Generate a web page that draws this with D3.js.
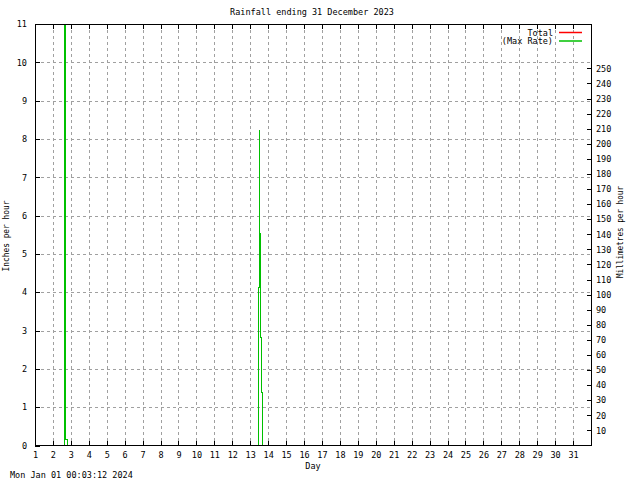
<!DOCTYPE html>
<html><head><meta charset="utf-8">
<script src="https://cdn.jsdelivr.net/npm/d3@7"></script>
<style>
html,body{margin:0;padding:0;background:#fff;}
text{font-family:"DejaVu Sans Mono",monospace;font-size:8.5px;fill:#000;}
</style></head>
<body>
<script>
// ---- data ----
const dayTicks = d3.range(1, 32);            // 1..31
const inchTicks = d3.range(0, 12);           // 0..11 inches per hour
const mmTicks = d3.range(10, 260, 10);       // 10..250 mm per hour
const rateDays   = [1, 2.617, 2.689, 2.773, 13.43, 13.486, 13.49, 13.542, 13.598, 13.67, 32];
const rateValues = [0, 20,    0.16,  0,     4.14,  8.26,   5.54,  2.83,   1.40,   0,     0];
const totalDays = [];
const totalValues = [];
const titleText = "Rainfall ending 31 December 2023";
const stampText = "Mon Jan 01 00:03:12 2024";

(function () {
const W = 640, H = 480;
const L = 35, R = 591, T = 24, B = 445.5;

const svg = d3.select("body").append("svg").attr("width", W).attr("height", H);
const x = d3.scaleLinear().domain([1, 32]).range([L, R]);
const y = d3.scaleLinear().domain([0, 11]).range([B, T]);
const y2 = d3.scaleLinear().domain([0, 11 * 25.4]).range([B, T]);

// grid
const grid = svg.append("g").attr("stroke", "#a0a0a0").attr("stroke-dasharray", "3,3")
  .attr("stroke-width", 1).attr("shape-rendering", "crispEdges");
grid.selectAll("line.v").data(dayTicks.filter(d => d > 1)).enter().append("line")
  .attr("x1", d => Math.round(x(d)) + 0.5).attr("x2", d => Math.round(x(d)) + 0.5)
  .attr("y1", T).attr("y2", B);
grid.selectAll("line.h").data(inchTicks.filter(d => d > 0 && d < 11)).enter().append("line")
  .attr("y1", d => Math.round(y(d)) + 0.5).attr("y2", d => Math.round(y(d)) + 0.5)
  .attr("x1", L).attr("x2", R);

// data
svg.append("clipPath").attr("id", "clip").append("rect")
  .attr("x", L).attr("y", T).attr("width", R - L).attr("height", B - T);
const line = d3.line().x(d => Math.round(x(d[0])) + 0.5).y(d => Math.round(y(d[1])) + 0.5).curve(d3.curveStepAfter);
svg.append("path").datum(rateDays.map((d, i) => [d, rateValues[i]]))
  .attr("clip-path", "url(#clip)")
  .attr("fill", "none").attr("stroke", "#00c000").attr("stroke-width", 1)
  .attr("shape-rendering", "crispEdges")
  .attr("d", line);
if (totalDays.length) {
  svg.append("path").datum(totalDays.map((d, i) => [d, totalValues[i]]))
    .attr("clip-path", "url(#clip)").attr("fill", "none").attr("stroke", "#ff0000").attr("d", line);
}

// axes
const ax = svg.append("g").attr("shape-rendering", "crispEdges");
const gBottom = ax.append("g").attr("transform", `translate(0,${B})`)
  .call(d3.axisBottom(x).tickValues(dayTicks).tickFormat(d3.format("d")).tickSizeInner(-5).tickSizeOuter(0).tickPadding(5));
ax.append("g").attr("transform", `translate(0,${T})`)
  .call(d3.axisTop(x).tickValues(dayTicks).tickFormat("").tickSizeInner(-5).tickSizeOuter(0));
ax.append("g").attr("transform", `translate(${L},0)`)
  .call(d3.axisLeft(y).tickValues(inchTicks).tickFormat(d3.format("d")).tickSizeInner(-5).tickSizeOuter(0).tickPadding(8));
ax.append("g").attr("transform", `translate(${R},0)`)
  .call(d3.axisRight(y2).tickValues(mmTicks).tickFormat(d3.format("d")).tickSizeInner(-4).tickSizeOuter(0).tickPadding(5));
ax.selectAll(".domain").remove();
ax.selectAll("line").attr("stroke", "#000");
ax.selectAll("text").attr("font-family", null).attr("font-size", null).style("font-family", "'DejaVu Sans Mono',monospace").style("font-size", "8.5px");
gBottom.selectAll("text").attr("dy", "0.9em");
// border
svg.append("rect").attr("x", L + 0.5).attr("y", T + 0.5).attr("width", R - L).attr("height", B - T - 0.5)
  .attr("fill", "none").attr("stroke", "#000").attr("stroke-width", 1).attr("shape-rendering", "crispEdges");

// texts
svg.append("text").attr("x", 312).attr("y", 15).attr("text-anchor", "middle").text(titleText);
svg.append("text").attr("x", 313).attr("y", 469).attr("text-anchor", "middle").text("Day");
svg.append("text").attr("x", 10).attr("y", 478).text(stampText);
svg.append("text").attr("transform", "translate(9,236) rotate(-90)").attr("text-anchor", "middle")
  .attr("textLength", 71).attr("lengthAdjust", "spacingAndGlyphs").text("Inches per hour");
svg.append("text").attr("transform", "translate(623,232) rotate(-90)").attr("text-anchor", "middle")
  .attr("textLength", 92).attr("lengthAdjust", "spacingAndGlyphs").text("Millimetres per hour");

// legend
const legend = [["Total", "#ff0000"], ["(Max Rate)", "#00c000"]];
legend.forEach((l, i) => {
  const yy = 32.5 + i * 8.5;
  svg.append("text").attr("x", 553).attr("y", yy + 3).attr("text-anchor", "end").text(l[0]);
  svg.append("line").attr("x1", 559).attr("x2", 582).attr("y1", yy).attr("y2", yy)
    .attr("stroke", l[1]).attr("stroke-width", 1.5);
});
})();
</script>
</body></html>
